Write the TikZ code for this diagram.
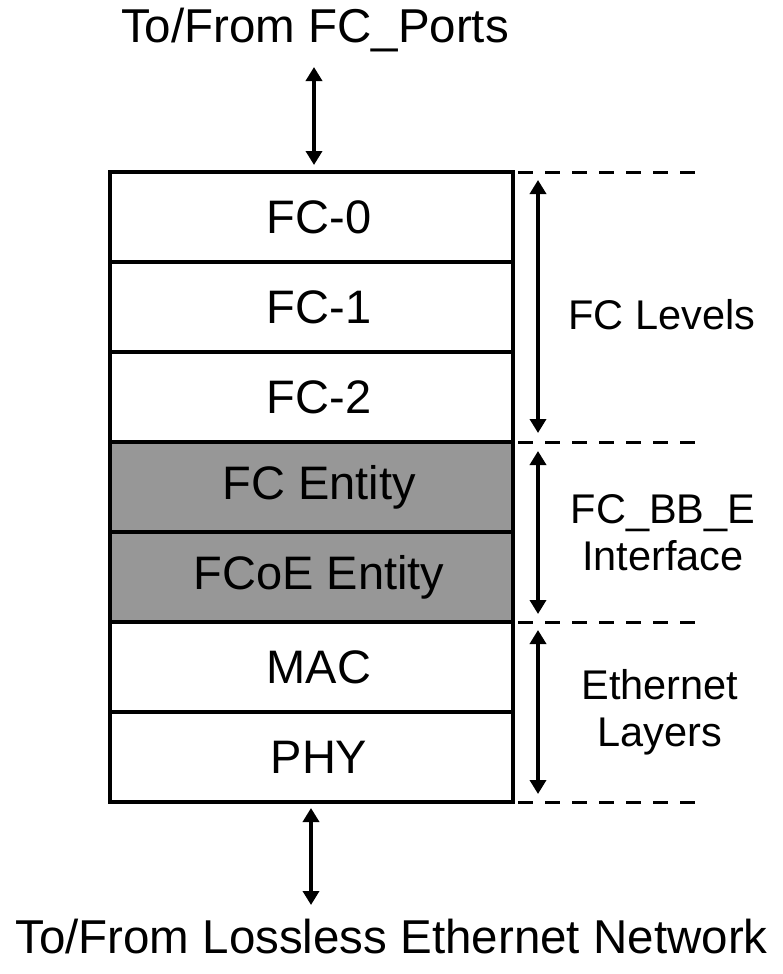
\documentclass[tikz,border=0pt]{standalone}
\usepackage{fontspec}
\setmainfont{Liberation Sans}
\usetikzlibrary{arrows.meta}
\definecolor{layergray}{HTML}{979797}
\tikzset{
  layer/.style={draw=black, line width=3.5pt, minimum width=403pt, minimum height=90pt,
    inner sep=0pt, font=\fontsize{47}{54}\selectfont,
    execute at begin node={\hspace*{15pt}}},
  shaded/.style={layer, fill=layergray},
  plain/.style={layer, fill=white},
  arr/.style={line width=4.5pt, {Triangle[length=14pt,width=16pt]}-{Triangle[length=14pt,width=16pt]}},
  sep/.style={line width=3pt, dash pattern=on 15pt off 12pt},
  lab/.style={font=\fontsize{41.5}{47}\selectfont, align=center, inner sep=0pt},
  biglab/.style={font=\fontsize{47.5}{55}\selectfont, inner sep=0pt}
}
\begin{document}
\begin{tikzpicture}[x=1pt,y=-1pt]
\useasboundingbox (0,0) rectangle (783,974);
% layer stack
\node[plain]  (fc0) at (311.5,217) {FC-0};
\node[plain]  (fc1) at (311.5,307) {FC-1};
\node[plain]  (fc2) at (311.5,397) {FC-2};
\node[shaded] (fce) at (311.5,487) {FC Entity};
\node[shaded] (fcoe) at (311.5,577) {FCoE Entity};
\node[plain]  (mac) at (311.5,667) {MAC};
\node[plain]  (phy) at (311.5,757) {PHY};
% top / bottom labels
\node[biglab] (ports) at (315,30) {To/From FC\_Ports};
\node[biglab] (net) at (391.5,937) {To/From Lossless Ethernet Network};
\coordinate (portsend) at (314,67);
\coordinate (stacktop) at (314,165);
\coordinate (stackbot) at (311,808);
\coordinate (netend) at (311,905);
\draw[arr] (portsend) -- (stacktop);
\draw[arr] (stackbot) -- (netend);
% dashed separators
\coordinate (s0a) at (518,172); \coordinate (s0b) at (697,172);
\coordinate (s1a) at (518,442); \coordinate (s1b) at (697,442);
\coordinate (s2a) at (518,622); \coordinate (s2b) at (697,622);
\coordinate (s3a) at (518,802); \coordinate (s3b) at (697,802);
\draw[sep] (s0a) -- (s0b);
\draw[sep] (s1a) -- (s1b);
\draw[sep] (s2a) -- (s2b);
\draw[sep] (s3a) -- (s3b);
% range arrows
\coordinate (r0t) at (538,180); \coordinate (r0b) at (538,433);
\coordinate (r1t) at (538,451); \coordinate (r1b) at (538,614);
\coordinate (r2t) at (538,630); \coordinate (r2b) at (538,794);
\draw[arr] (r0t) -- (r0b);
\draw[arr] (r1t) -- (r1b);
\draw[arr] (r2t) -- (r2b);
% range labels
\node[lab] (lfc) at (662,315) {FC Levels};
\node[lab] (lbb) at (663,533) {FC\_BB\_E\\Interface};
\node[lab] (leth) at (660,712) {Ethernet\\Layers};
\end{tikzpicture}
\end{document}
